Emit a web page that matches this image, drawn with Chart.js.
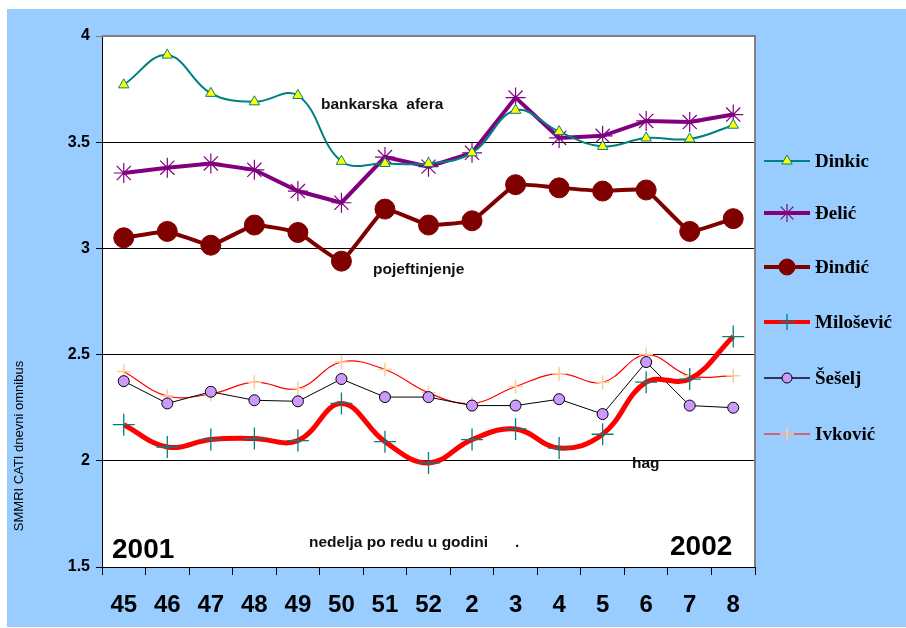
<!DOCTYPE html>
<html>
<head>
<meta charset="utf-8">
<script src="https://cdn.jsdelivr.net/npm/chart.js@4.4.1/dist/chart.umd.min.js"></script>
<style>
  html, body { margin: 0; padding: 0; background: #fff; }
  #chart { display: block; }
</style>
</head>
<body>
<canvas id="chart" width="906" height="628"></canvas>
<script>
// weeks (2001: 45-52, 2002: 2-8)
const weeks = ['45', '46', '47', '48', '49', '50', '51', '52', '2', '3', '4', '5', '6', '7', '8'];

const dinkic    = [3.77, 3.91, 3.73, 3.69, 3.72, 3.41, 3.40, 3.40, 3.45, 3.65, 3.55, 3.48, 3.52, 3.515, 3.58];
const delic     = [3.355, 3.38, 3.40, 3.37, 3.27, 3.215, 3.43, 3.385, 3.45, 3.71, 3.52, 3.53, 3.60, 3.595, 3.63];
const djindjic  = [3.05, 3.08, 3.015, 3.11, 3.075, 2.94, 3.185, 3.11, 3.13, 3.30, 3.285, 3.27, 3.275, 3.08, 3.14];
const milosevic = [2.17, 2.065, 2.10, 2.105, 2.095, 2.27, 2.09, 1.99, 2.10, 2.15, 2.06, 2.125, 2.37, 2.385, 2.585];
const seselj    = [2.375, 2.27, 2.325, 2.285, 2.28, 2.385, 2.30, 2.30, 2.26, 2.26, 2.29, 2.22, 2.465, 2.26, 2.25];
const ivkovic   = [2.42, 2.305, 2.315, 2.37, 2.34, 2.465, 2.43, 2.32, 2.27, 2.35, 2.41, 2.37, 2.50, 2.40, 2.40];

const yTicks = [1.5, 2, 2.5, 3, 3.5, 4];

const BLUE_BG = '#99CCFF';

const datasets = [
  { label: 'Dinkic', data: dinkic, borderColor: '#008080', borderWidth: 2, tension: 0.4,
    pointStyle: 'triangle', pointRadius: 6, pointBackgroundColor: '#FFFF00', pointBorderColor: '#008080', pointBorderWidth: 1,
    legendRadius: 6 },
  { label: 'Đelić', data: delic, borderColor: '#800080', borderWidth: 4, tension: 0,
    pointStyle: 'star', pointRadius: 10, pointBackgroundColor: '#800080', pointBorderColor: '#800080', pointBorderWidth: 1.2,
    legendRadius: 9 },
  { label: 'Đinđić', data: djindjic, borderColor: '#800000', borderWidth: 4, tension: 0.1,
    pointStyle: 'circle', pointRadius: 10, pointBackgroundColor: '#800000', pointBorderColor: '#800000', pointBorderWidth: 1,
    legendRadius: 8 },
  { label: 'Milošević', data: milosevic, borderColor: '#FF0000', borderWidth: 5, tension: 0.4,
    pointStyle: 'cross', pointRadius: 11, pointBackgroundColor: '#008080', pointBorderColor: '#008080', pointBorderWidth: 1.3,
    legendRadius: 8 },
  { label: 'Šešelj', data: seselj, borderColor: '#000000', borderWidth: 1, tension: 0,
    pointStyle: 'circle', pointRadius: 5.5, pointBackgroundColor: '#CC99FF', pointBorderColor: '#000000', pointBorderWidth: 1,
    legendRadius: 5, legendLine: '#333355', legendLineWidth: 2 },
  { label: 'Ivković', data: ivkovic, borderColor: '#FF0000', borderWidth: 1.2, tension: 0.4,
    pointStyle: 'cross', pointRadius: 7, pointBackgroundColor: '#FFCC99', pointBorderColor: '#FFCC99', pointBorderWidth: 1.5,
    legendRadius: 7 }
];

datasets.forEach(d => { d.fill = false; d.pointHoverRadius = d.pointRadius; });

const framePlugin = {
  id: 'frame',
  beforeDraw(chart) {
    const { ctx, chartArea: a } = chart;
    ctx.save();
    ctx.fillStyle = '#fff';
    ctx.fillRect(0, 0, chart.width, chart.height);
    ctx.fillStyle = BLUE_BG;
    ctx.fillRect(7, 9, chart.width - 7, chart.height - 10);
    ctx.fillStyle = '#fff';
    ctx.fillRect(a.left, a.top, a.right - a.left, a.bottom - a.top);
    ctx.restore();
  },
  afterDatasetsDraw(chart) {
    const { ctx, chartArea: a } = chart;
    ctx.save();
    // top/right border
    ctx.strokeStyle = '#808080';
    ctx.lineWidth = 2;
    ctx.beginPath();
    ctx.moveTo(a.left, a.top);
    ctx.lineTo(a.right, a.top);
    ctx.lineTo(a.right, a.bottom);
    ctx.stroke();

    // annotations
    ctx.fillStyle = '#111';
    ctx.textBaseline = 'middle';
    ctx.textAlign = 'left';
    ctx.font = 'bold 15.5px "Liberation Sans", Arial, sans-serif';
    ctx.fillText('bankarska  afera', 321, 105);
    ctx.fillText('pojeftinjenje', 373, 270);
    ctx.fillText('hag', 632, 464);
    ctx.fillText('nedelja po redu u godini', 309, 543);
    ctx.fillText('.', 515, 543);
    ctx.fillStyle = '#000';
    ctx.font = 'bold 28px "Liberation Sans", Arial, sans-serif';
    ctx.fillText('2001', 112, 550);
    ctx.fillText('2002', 670, 547);

    // y axis title
    ctx.save();
    ctx.translate(19, 446);
    ctx.rotate(-Math.PI / 2);
    ctx.textAlign = 'center';
    ctx.font = '13px "Liberation Sans", Arial, sans-serif';
    ctx.fillStyle = '#000';
    ctx.fillText('SMMRI CATI dnevni omnibus', 0, 0);
    ctx.restore();
    ctx.restore();
  },
  afterDraw(chart) {
    // legend
    const { ctx } = chart;
    const rows = [161, 213, 267, 322, 378, 434];
    ctx.save();
    chart.data.datasets.forEach((d, i) => {
      const y = rows[i];
      ctx.strokeStyle = d.legendLine || d.borderColor;
      ctx.lineWidth = d.legendLineWidth || Math.min(d.borderWidth, 4);
      ctx.beginPath();
      ctx.moveTo(764, y);
      ctx.lineTo(810, y);
      ctx.stroke();
      ctx.fillStyle = d.pointBackgroundColor;
      ctx.strokeStyle = d.pointBorderColor;
      ctx.lineWidth = d.pointBorderWidth;
      Chart.helpers.drawPoint(ctx, { pointStyle: d.pointStyle, radius: d.legendRadius, rotation: 0, borderWidth: d.pointBorderWidth }, 787, y);
      ctx.fillStyle = '#000';
      ctx.font = 'bold 19px "Liberation Serif", "Times New Roman", serif';
      ctx.textBaseline = 'middle';
      ctx.textAlign = 'left';
      ctx.fillText(d.label, 815, y + 1);
    });
    ctx.restore();
  }
};

new Chart(document.getElementById('chart'), {
  type: 'line',
  data: { labels: weeks, datasets },
  plugins: [framePlugin],
  options: {
    responsive: false,
    animation: false,
    layout: { padding: { top: 36, right: 151, left: 0, bottom: 0 } },
    plugins: { legend: { display: false }, tooltip: { enabled: false } },
    scales: {
      x: {
        type: 'category',
        offset: true,
        afterFit: s => { s.height = 61; },
        grid: { offset: true, drawOnChartArea: false, color: '#000', tickLength: 8, tickWidth: 1 },
        border: { color: '#000', width: 1 },
        ticks: { color: '#000', font: { family: '"Liberation Sans", Arial, sans-serif', size: 24, weight: 'bold' }, padding: 16, maxRotation: 0, autoSkip: false }
      },
      y: {
        min: 1.5, max: 4,
        afterFit: s => { s.width = 102; },
        afterBuildTicks: s => { s.ticks = yTicks.map(v => ({ value: v })); },
        grid: { color: c => (c.tick && c.tick.value === 4 ? '#808080' : '#000'), lineWidth: 1, tickLength: 6 },
        border: { color: '#000', width: 1 },
        ticks: { color: '#000', font: { family: '"Liberation Sans", Arial, sans-serif', size: 16, weight: 'bold' }, padding: 6,
          callback: v => String(v) }
      }
    }
  }
});
</script>
</body>
</html>
